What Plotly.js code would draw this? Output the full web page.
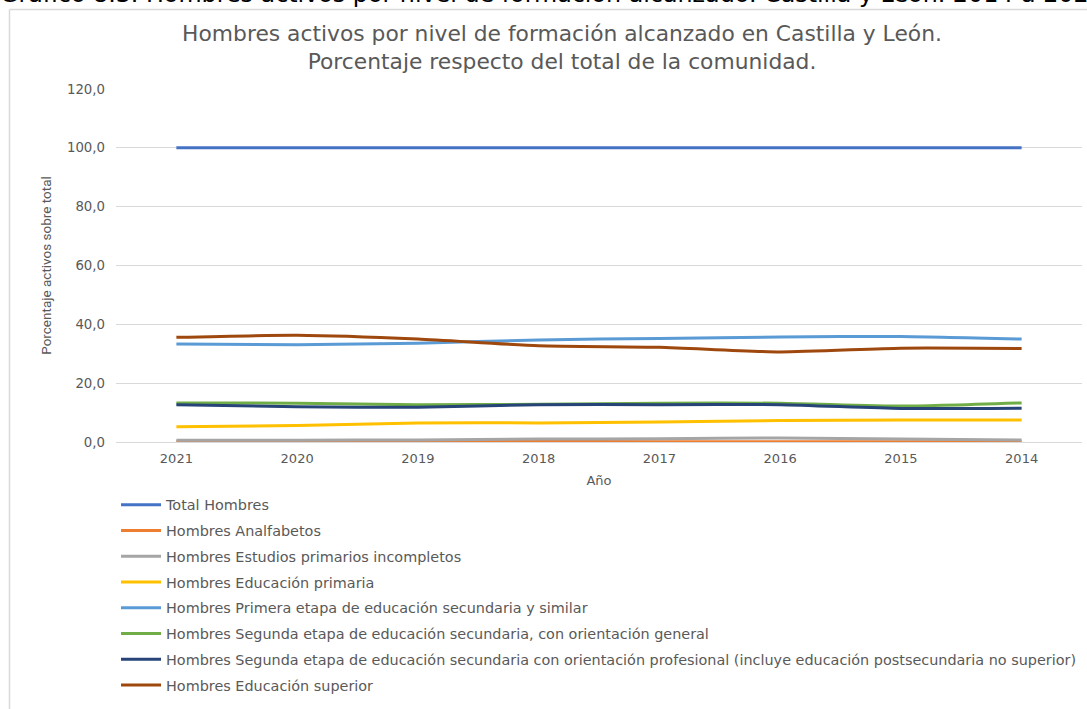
<!DOCTYPE html>
<html>
<head>
<meta charset="utf-8">
<script src="https://cdn.plot.ly/plotly-3.0.1.min.js"></script>
<style>
html,body{margin:0;padding:0;background:#fff;overflow:hidden;}
#chart{width:1087px;height:709px;}
</style>
</head>
<body>
<div id="chart"></div>
<script>
const years = ["2021","2020","2019","2018","2017","2016","2015","2014"];
const seriesNames = [
  "Total Hombres",
  "Hombres Analfabetos",
  "Hombres Estudios primarios incompletos",
  "Hombres Educación primaria",
  "Hombres Primera etapa de educación secundaria y similar",
  "Hombres Segunda etapa de educación secundaria, con orientación general",
  "Hombres Segunda etapa de educación secundaria con orientación profesional (incluye educación postsecundaria no superior)",
  "Hombres Educación superior"
];
const totalHombres        = [100,100,100,100,100,100,100,100];
const analfabetos         = [0.2,0.1,0.1,0.2,0.1,0.1,0.1,0.1];
const primariosIncompletos= [0.6,0.6,0.7,1.0,1.1,1.4,1.0,0.7];
const educacionPrimaria   = [5.2,5.6,6.5,6.5,6.8,7.3,7.5,7.5];
const primeraEtapaSec     = [33.3,33.1,33.6,34.7,35.2,35.7,35.9,35.0];
const segundaGeneral      = [13.3,13.2,12.7,12.8,13.2,13.2,12.2,13.3];
const segundaProfesional  = [12.7,12.0,11.8,12.7,12.7,12.7,11.4,11.5];
const educacionSuperior   = [35.6,36.3,35.0,32.7,32.2,30.6,31.9,31.8];
const yTickVals = [0,20,40,60,80,100,120];

const allValues = [totalHombres, analfabetos, primariosIncompletos, educacionPrimaria,
  primeraEtapaSec, segundaGeneral, segundaProfesional, educacionSuperior];
const colors = ["#4472C4","#ED7D31","#A5A5A5","#FFC000","#5B9BD5","#70AD47","#264478","#9E480E"];

const traces = allValues.map((vals, i) => ({
  type: "scatter",
  mode: "lines",
  x: years,
  y: vals,
  name: seriesNames[i],
  legendgroup: "g" + i,
  line: {color: colors[i], width: 3, shape: "spline", smoothing: 0.6},
  hoverinfo: "skip"
}));

// plot area in px: x 116..1082, y 89..442
const L = 116, R = 1082, T = 89, B = 442;
const W = 1087, H = 709;
const pw = R - L, ph = B - T;
const px = v => (v - L) / pw;
const py = v => (B - v) / ph;

const FONT = "DejaVu Sans, Verdana, sans-serif";
const GRAY = "#595959";

const layout = {
  width: W, height: H,
  margin: {l: L, r: W - R, t: T, b: H - B, pad: 0, autoexpand: false},
  paper_bgcolor: "#ffffff",
  plot_bgcolor: "#ffffff",
  separators: ",.",
  font: {family: FONT, size: 13, color: GRAY},
  showlegend: true,
  title: {
    text: "Hombres activos por nivel de formación alcanzado en Castilla y León.<br>Porcentaje respecto del total de la comunidad.",
    font: {family: FONT, size: 21.8, color: GRAY},
    xref: "container", x: 562 / W, xanchor: "center",
    yref: "container", y: 1 - 41 / H, yanchor: "top"
  },
  xaxis: {
    type: "category",
    range: [-0.5, 7.5],
    showgrid: false,
    showline: true, linecolor: "#d9d9d9", linewidth: 1,
    zeroline: false,
    ticks: "",
    ticklabelstandoff: 4,
    tickfont: {family: FONT, size: 13, color: GRAY},
    title: {text: "Año", font: {family: FONT, size: 13, color: GRAY}, standoff: 11},
    fixedrange: true
  },
  yaxis: {
    range: [0, 120],
    tickvals: yTickVals,
    tickformat: ".1f",
    showgrid: true, gridcolor: "#d9d9d9", gridwidth: 1,
    zeroline: false,
    showline: false,
    ticks: "",
    ticklabelstandoff: 10,
    tickfont: {family: FONT, size: 13.3, color: GRAY},
    title: {text: "Porcentaje activos sobre total", font: {family: "Roboto, sans-serif", size: 13.5, color: GRAY}, standoff: 12},
    fixedrange: true
  },
  legend: {
    orientation: "v",
    xref: "paper", x: px(116), xanchor: "left",
    yref: "container", y: 1 - 489 / H, yanchor: "top",
    traceorder: "grouped",
    tracegroupgap: 4,
    font: {family: FONT, size: 14.4, color: GRAY},
    bgcolor: "rgba(0,0,0,0)",
    itemwidth: 40
  },
  shapes: [
    {type: "line", xref: "paper", yref: "paper", x0: px(9.5), x1: px(9.5), y0: py(9.5), y1: py(720),
     line: {color: "#d9d9d9", width: 1.5}},
    {type: "line", xref: "paper", yref: "paper", x0: px(9.5), x1: px(1100), y0: py(9.5), y1: py(9.5),
     line: {color: "#d9d9d9", width: 1.5}}
  ],
  annotations: [
    {text: "Gráfico 8.3. Hombres activos por nivel de formación alcanzado. Castilla y León. 2014 a 2021",
     xref: "paper", yref: "paper", x: px(-2), xanchor: "left",
     y: py(10), yanchor: "bottom", showarrow: false,
     font: {family: FONT, size: 23.8, color: "#000000"}}
  ]
};

Plotly.newPlot("chart", traces, layout, {displayModeBar: false, staticPlot: true});
</script>
</body>
</html>
